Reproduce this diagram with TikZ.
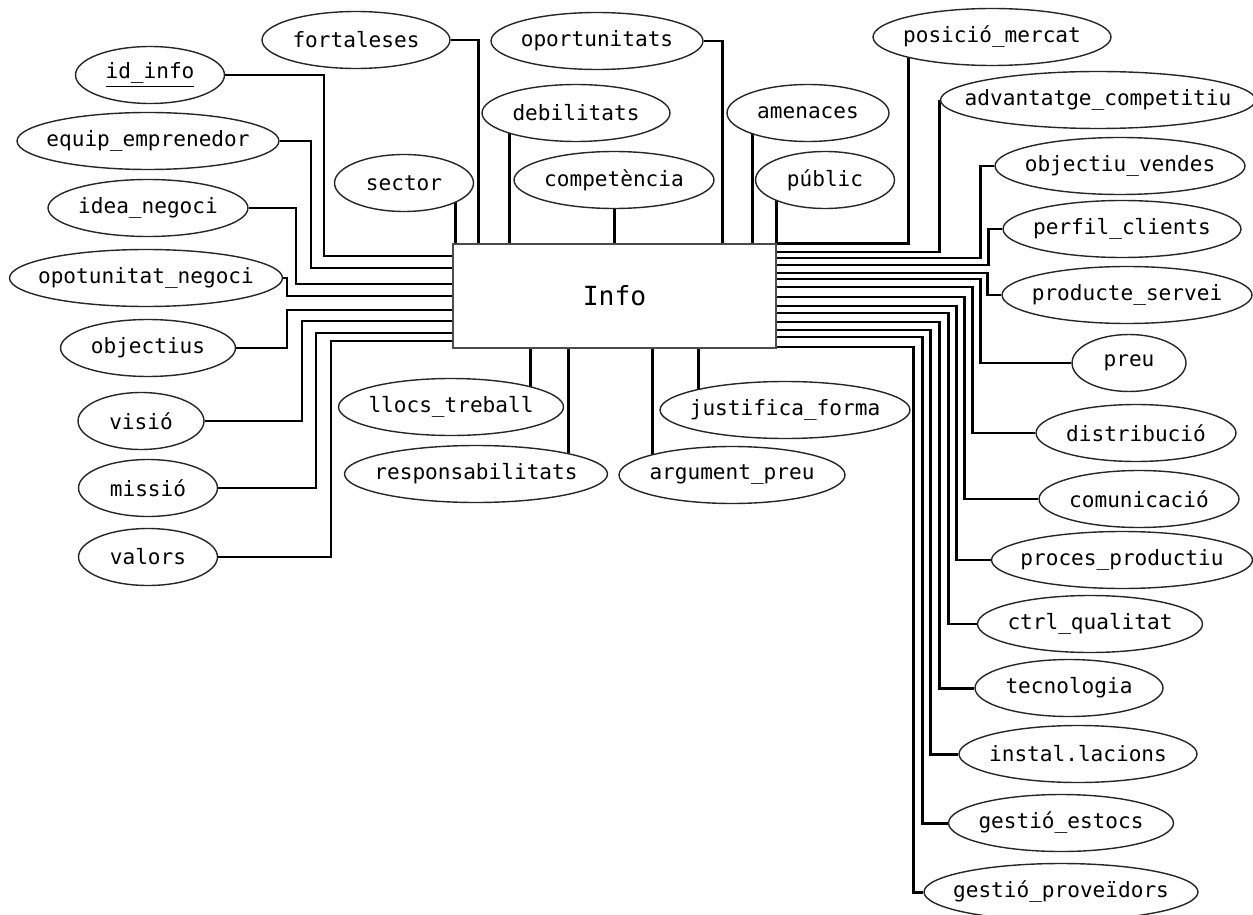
\documentclass[tikz,border=0pt]{standalone}
\usepackage{fontspec}
\setmainfont{DejaVu Sans Mono}
\usetikzlibrary{shapes.geometric, backgrounds}
\tikzset{
  attr/.style={ellipse, draw=black!85, fill=white, line width=0.8pt, minimum width=#1, minimum height=1.14cm,
    inner sep=0pt, font=\fontsize{12}{14}\selectfont,
    execute at begin node={\hbox to 0pt\bgroup\hss}, execute at end node={\hss\egroup}},
  entity/.style={rectangle, draw=black!70, fill=white, line width=0.8pt, minimum width=6.46cm, minimum height=2.08cm,
    font=\fontsize{15}{18}\selectfont},
  conn/.style={draw=black, line width=1.7pt},
}

\begin{document}
\begin{tikzpicture}[x=0.02cm, y=-0.02cm]
  \useasboundingbox (0,0) rectangle (1253,915);
  % ---------------- entity
  \node[entity] (info) at (614.5,296) {Info};
  % ---------------- left
  \node[attr=2.98cm] (idinfo) at (150,75) {\underline{id\_info}};
  \node[attr=5.24cm] (equip) at (148,141) {equip\_emprenedor};
  \node[attr=4.0cm] (idea) at (148,208) {idea\_negoci};
  \node[attr=5.46cm] (opotunitat) at (146,278) {opotunitat\_negoci};
  \node[attr=3.5cm] (objectius) at (148,348) {objectius};
  \node[attr=2.52cm] (visio) at (141,421) {visió};
  \node[attr=2.78cm] (missio) at (148,488) {missió};
  \node[attr=2.78cm] (valors) at (148,557) {valors};
  % ---------------- top
  \node[attr=3.76cm] (fortaleses) at (356,40) {fortaleses};
  \node[attr=2.78cm] (sector) at (404,183) {sector};
  \node[attr=4.24cm] (oportunitats) at (597,41) {oportunitats};
  \node[attr=3.76cm] (debilitats) at (576,113) {debilitats};
  \node[attr=4.0cm] (competencia) at (614,180) {competència};
  \node[attr=3.24cm] (amenaces) at (808,113) {amenaces};
  \node[attr=2.78cm] (public) at (825,180) {públic};
  % ---------------- bottom
  \node[attr=4.5cm] (llocs) at (451,407) {llocs\_treball};
  \node[attr=5.26cm] (responsabilitats) at (476,474) {responsabilitats};
  \node[attr=5.0cm] (justifica) at (785,410) {justifica\_forma};
  \node[attr=4.52cm] (argument) at (732,475) {argument\_preu};
  % ---------------- right
  \node[attr=4.76cm] (posicio) at (992,37) {posició\_mercat};
  \node[attr=6.3cm] (avantatge) at (1098,100) {advantatge\_competitiu};
  \node[attr=5.0cm] (vendes) at (1120,166) {objectiu\_vendes};
  \node[attr=4.76cm] (perfil) at (1122,229) {perfil\_clients};
  \node[attr=5.0cm] (producte) at (1127,295) {producte\_servei};
  \node[attr=2.28cm] (preu) at (1129,363) {preu};
  \node[attr=4.0cm] (distribucio) at (1136,433) {distribució};
  \node[attr=4.0cm] (comunicacio) at (1139,499) {comunicació};
  \node[attr=5.22cm] (proces) at (1122,560) {proces\_productiu};
  \node[attr=4.5cm] (qualitat) at (1090,624) {ctrl\_qualitat};
  \node[attr=3.76cm] (tecnologia) at (1069,688) {tecnologia};
  \node[attr=4.76cm] (installacions) at (1078,754) {instal.lacions};
  \node[attr=4.5cm] (estocs) at (1061,823) {gestió\_estocs};
  \node[attr=5.48cm] (proveidors) at (1061,892) {gestió\_proveïdors};
  % ---------------- connectors
  \begin{scope}[on background layer]
    \foreach \n/\x/\y in {idinfo/324/256, equip/311/268, idea/296/284, opotunitat/287/296,
                          objectius/287/310, visio/302/321, missio/316/333, valors/331/341}
      \draw[conn] (\n.east) -| (\x,\y) -- (info.west |- 0,\y);
    \draw[conn] (fortaleses.east) -| (info.north -| 478,0);
    \draw[conn] (oportunitats.east) -| (info.north -| 722,0);
    \foreach \n/\x in {sector/455, debilitats/509, competencia/614, amenaces/752, public/776}
      \draw[conn] (\n -| \x,0) -- (info.north -| \x,0);
    \foreach \n/\x in {llocs/530, responsabilitats/568, argument/652, justifica/698}
      \draw[conn] (info.south -| \x,0) -- (\n -| \x,0);
    \draw[conn] (info.north east) -| (posicio -| 908,0);
    \draw[conn] (info.east |- 0,252) -| (avantatge.west);
    \foreach \n/\x/\y in {vendes/980/258, perfil/988/265, producte/987/273, preu/980/279,
                          distribucio/972/287, comunicacio/964/297, proces/956/306, qualitat/948/313,
                          tecnologia/939/322, installacions/930/330, estocs/922/337, proveidors/913/347}
      \draw[conn] (info.east |- 0,\y) -| (\n.west -| \x,0) -- (\n.west);
  \end{scope}
\end{tikzpicture}
\end{document}
